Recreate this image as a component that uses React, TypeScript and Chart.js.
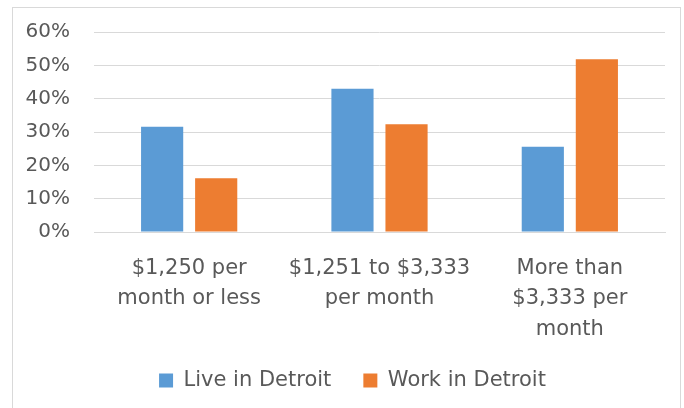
import React, { useEffect, useRef } from "react";
import { Chart, registerables } from "chart.js";

Chart.register(...registerables);

const categories: string[][] = [
  ["$1,250 per", "month or less"],
  ["$1,251 to $3,333", "per month"],
  ["More than", "$3,333 per", "month"],
];
const seriesNames = ["Live in Detroit", "Work in Detroit"];
const liveValues = [0.316, 0.43, 0.256];
const workValues = [0.161, 0.323, 0.518];
const seriesColors = ["#5B9BD5", "#ED7D31"];

const FONT = "'DejaVu Sans', sans-serif";
const TEXT = "#595959";

const shiftLegend = {
  id: "shiftLegend",
  afterLayout(chart: any) {
    const l = chart.legend;
    if (l) {
      l.left += 20;
      l.right += 20;
      l.top -= 7;
      l.bottom -= 7;
    }
  },
};

export default function App() {
  const ref = useRef<HTMLCanvasElement | null>(null);

  useEffect(() => {
    document.body.style.margin = "0";
    const canvas = ref.current;
    if (!canvas) return;
    const chart = new Chart(canvas, {
      type: "bar",
      data: {
        labels: categories,
        datasets: [
          {
            label: seriesNames[0],
            data: liveValues,
            backgroundColor: seriesColors[0],
            categoryPercentage: 0.568,
            barPercentage: 0.78,
          },
          {
            label: seriesNames[1],
            data: workValues,
            backgroundColor: seriesColors[1],
            categoryPercentage: 0.568,
            barPercentage: 0.78,
          },
        ],
      },
      plugins: [shiftLegend],
      options: {
        animation: false,
        responsive: false,
        maintainAspectRatio: false,
        layout: { padding: { top: 20, right: 19, left: 0, bottom: 0 } },
        plugins: {
          tooltip: { enabled: false },
          legend: {
            position: "bottom",
            labels: {
              color: TEXT,
              font: { family: FONT, size: 21 },
              boxWidth: 14,
              boxHeight: 14,
              padding: 32,
            },
          },
        },
        scales: {
          x: {
            grid: { display: false },
            border: { display: true, color: "#d9d9d9" },
            ticks: {
              color: TEXT,
              font: { family: FONT, size: 21, lineHeight: 1.43 },
              padding: 14,
              maxRotation: 0,
              autoSkip: false,
            },
            afterFit: (s: any) => {
              s.height = 113;
            },
          },
          y: {
            min: 0,
            max: 0.6,
            grid: { color: "#d9d9d9", drawTicks: false },
            border: { display: false },
            ticks: {
              stepSize: 0.1,
              color: TEXT,
              font: { family: FONT, size: 20, lineHeight: 0.8 },
              padding: 24,
              callback: (v: any) => Math.round(Number(v) * 100) + "%",
            },
            afterFit: (s: any) => {
              s.width = 94;
            },
          },
        },
      },
    });
    return () => chart.destroy();
  }, []);

  return (
    <div
      style={{
        position: "fixed",
        left: 0,
        top: 0,
        width: 684,
        height: 408,
        background: "#fff",
        overflow: "hidden",
      }}
    >
      <div
        style={{
          position: "absolute",
          left: 12,
          top: 7,
          width: 669,
          height: 420,
          border: "1px solid #d9d9d9",
          boxSizing: "border-box",
        }}
      />
      <canvas
        ref={ref}
        width={684}
        height={408}
        style={{ position: "absolute", left: 0, top: 0 }}
      />
    </div>
  );
}
